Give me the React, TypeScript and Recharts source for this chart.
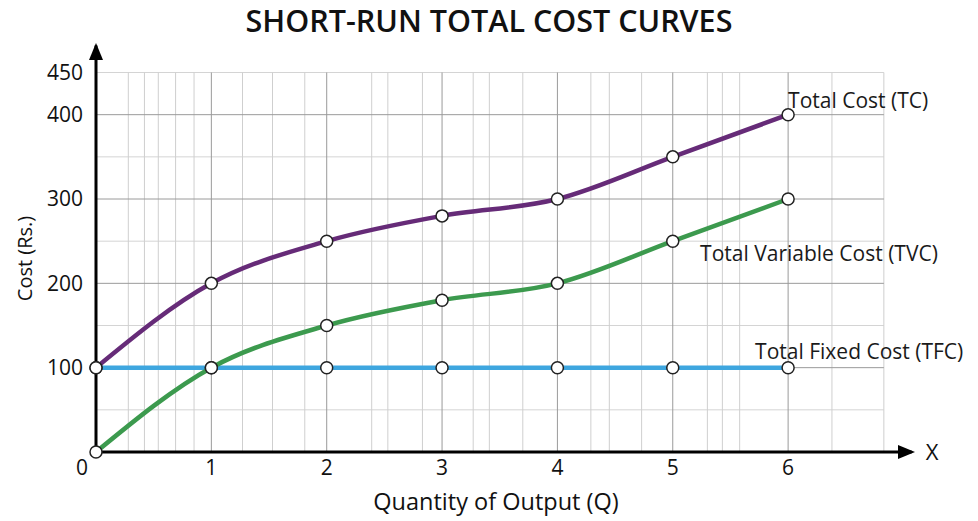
import React from 'react';
import { ComposedChart, Line, XAxis, YAxis, ReferenceLine, ReferenceDot, Label } from 'recharts';

const quantity = [0, 1, 2, 3, 4, 5, 6];
const totalFixedCost = [100, 100, 100, 100, 100, 100, 100];
const totalVariableCost = [0, 100, 150, 180, 200, 250, 300];
const totalCost = [100, 200, 250, 280, 300, 350, 400];

const xTicks = [0, 1, 2, 3, 4, 5, 6];
const yTicks = [100, 200, 300, 400, 450];
const majorGridX = [1, 2, 3, 4, 5, 6];
const minorGridX = [0.28, 0.42, 0.54, 0.69, 0.85, 1.27, 1.53, 1.81, 2.39, 2.53, 2.83, 3.27, 3.41, 3.7, 4.29, 4.45, 4.73, 5.3, 5.43, 5.58, 6.38, 6.83];
const majorGridY = [100, 200, 300, 400];
const minorGridY = [50, 150, 250, 350, 450];

const GRID_X_END = 6.83;
const GRID_Y_END = 450;
const X_MAX = 7.1;
const Y_MAX = 485;

const FONT = '"Open Sans", "Noto Sans", sans-serif';

const data = quantity.map((q, i) => ({
  q,
  tfc: totalFixedCost[i],
  tvc: totalVariableCost[i],
  tc: totalCost[i],
}));

const seriesLabels = {
  tc: { text: 'Total Cost (TC)', dx: 0, dy: -14 },
  tvc: { text: 'Total Variable Cost (TVC)', dx: -88, dy: 55 },
  tfc: { text: 'Total Fixed Cost (TFC)', dx: -33, dy: -16 },
};

const makeEndLabel = (key: 'tc' | 'tvc' | 'tfc') => (props: any) => {
  const { x, y, index } = props;
  if (index !== quantity.length - 1) return null;
  const cfg = seriesLabels[key];
  return (
    <text
      x={x + cfg.dx}
      y={y + cfg.dy}
      dy="0.35em"
      textAnchor="start"
      fontFamily={FONT}
      fontSize={21}
      fill="#1a1a1a"
    >
      {cfg.text}
    </text>
  );
};

const XTick = (props: any) => {
  const { x, y, payload } = props;
  const shift = payload.value === 0 ? -14 : 0;
  return (
    <text x={x + shift} y={y} dy="0.71em" textAnchor="middle" fontFamily={FONT} fontSize={21} fill="#111">
      {payload.value}
    </text>
  );
};

const YTick = (props: any) => {
  const { x, y, payload } = props;
  return (
    <text x={x} y={y} dy="0.35em" textAnchor="end" fontFamily={FONT} fontSize={21} fill="#111">
      {payload.value}
    </text>
  );
};

const upArrow = (props: any) => {
  const { cx, cy } = props;
  return <path d={`M${cx},${cy} L${cx - 7},${cy + 17} L${cx + 7},${cy + 17} Z`} fill="#000" />;
};

const rightArrow = (props: any) => {
  const { cx, cy } = props;
  return <path d={`M${cx},${cy} L${cx - 17},${cy - 7} L${cx - 17},${cy + 7} Z`} fill="#000" />;
};

const dotStyle = { r: 6, fill: '#fff', stroke: '#222', strokeWidth: 1.5 };

export default function App() {
  return (
    <div style={{ position: 'absolute', left: 0, top: 0, width: 978, height: 521, background: '#fff' }}>
      <div
        style={{
          position: 'absolute',
          left: 0,
          top: 3,
          width: 978,
          textAlign: 'center',
          fontFamily: FONT,
          fontSize: 30.5,
          fontWeight: 600,
          lineHeight: '34px',
          color: '#111',
        }}
      >
        SHORT-RUN TOTAL COST CURVES
      </div>
      <ComposedChart
        width={978}
        height={521}
        data={data}
        margin={{ top: 43, right: 63, bottom: 39, left: 36 }}
      >
        <XAxis
          dataKey="q"
          type="number"
          domain={[0, X_MAX]}
          ticks={xTicks}
          axisLine={false}
          tickLine={false}
          tickSize={0}
          tickMargin={8}
          height={30}
          tick={<XTick />}
          interval={0}
        >
          <Label
            content={(p: any) => {
              const vb = p.viewBox || { x: 96, y: 452 };
              return (
                <g>
                  <text x={vb.x + 400} y={vb.y + 50} dy="0.35em" textAnchor="middle" fontFamily={FONT} fontSize={23.5} fill="#111">
                    Quantity of Output (Q)
                  </text>
                  <text x={vb.x + 836} y={vb.y} dy="0.35em" textAnchor="middle" fontFamily={FONT} fontSize={22} fill="#111">
                    X
                  </text>
                </g>
              );
            }}
          />
        </XAxis>
        <YAxis
          type="number"
          domain={[0, Y_MAX]}
          ticks={yTicks}
          axisLine={false}
          tickLine={false}
          tickSize={0}
          tickMargin={13}
          width={60}
          tick={<YTick />}
          interval={0}
        >
          <Label
            content={(p: any) => {
              const vb = p.viewBox || { x: 36, y: 43, height: 409 };
              const cx = vb.x - 11;
              const cy = vb.y + vb.height / 2 + 11;
              return (
                <text x={cx} y={cy} dy="0.35em" textAnchor="middle" fontFamily={FONT} fontSize={20} fill="#111" transform={`rotate(-90, ${cx}, ${cy})`}>
                  Cost (Rs.)
                </text>
              );
            }}
          />
        </YAxis>

        {minorGridY.map((v) => (
          <ReferenceLine key={`my${v}`} segment={[{ x: 0, y: v }, { x: GRID_X_END, y: v }]} stroke="#d4d4d4" strokeWidth={1} />
        ))}
        {minorGridX.map((v) => (
          <ReferenceLine key={`mx${v}`} segment={[{ x: v, y: 0 }, { x: v, y: GRID_Y_END }]} stroke="#cfcfcf" strokeWidth={1} />
        ))}
        {majorGridY.map((v) => (
          <ReferenceLine key={`My${v}`} segment={[{ x: 0, y: v }, { x: GRID_X_END, y: v }]} stroke="#9a9a9a" strokeWidth={1} />
        ))}
        {majorGridX.map((v) => (
          <ReferenceLine key={`Mx${v}`} segment={[{ x: v, y: 0 }, { x: v, y: GRID_Y_END }]} stroke="#9a9a9a" strokeWidth={1} />
        ))}

        <ReferenceLine segment={[{ x: 0, y: 0 }, { x: 0, y: Y_MAX - 3 }]} stroke="#000" strokeWidth={3} />
        <ReferenceLine segment={[{ x: 0, y: 0 }, { x: X_MAX - 0.03, y: 0 }]} stroke="#000" strokeWidth={3} />
        <ReferenceDot x={0} y={Y_MAX} r={1} shape={upArrow} />
        <ReferenceDot x={X_MAX} y={0} r={1} shape={rightArrow} />

        <Line
          type="monotone"
          dataKey="tfc"
          stroke="#3ea6df"
          strokeWidth={4.5}
          dot={dotStyle}
          activeDot={false}
          isAnimationActive={false}
          label={makeEndLabel('tfc')}
        />
        <Line
          type="monotone"
          dataKey="tvc"
          stroke="#3c9a4e"
          strokeWidth={4.5}
          dot={dotStyle}
          activeDot={false}
          isAnimationActive={false}
          label={makeEndLabel('tvc')}
        />
        <Line
          type="monotone"
          dataKey="tc"
          stroke="#662b78"
          strokeWidth={4.5}
          dot={dotStyle}
          activeDot={false}
          isAnimationActive={false}
          label={makeEndLabel('tc')}
        />
      </ComposedChart>
    </div>
  );
}
